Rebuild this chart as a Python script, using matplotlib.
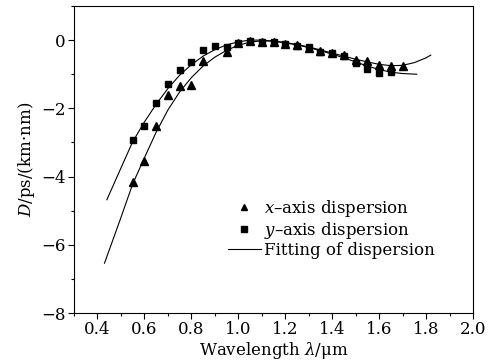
import numpy as np
import matplotlib
matplotlib.use("Agg")
import matplotlib.pyplot as plt
from matplotlib.ticker import MultipleLocator
from matplotlib.lines import Line2D

plt.rcParams['font.family'] = ['DejaVu Serif']
plt.rcParams['mathtext.fontset'] = 'dejavuserif'

# Measured dispersion, x-axis (triangles)
wl_x = [0.55, 0.60, 0.65, 0.70, 0.75, 0.80, 0.85, 0.95, 1.00, 1.05, 1.10, 1.15,
        1.20, 1.25, 1.30, 1.35, 1.40, 1.45, 1.50, 1.55, 1.60, 1.65, 1.70]
d_x = [-4.17, -3.55, -2.53, -1.61, -1.35, -1.31, -0.60, -0.34, -0.08, -0.03, -0.05, -0.06,
       -0.11, -0.15, -0.22, -0.32, -0.37, -0.44, -0.57, -0.61, -0.72, -0.76, -0.76]

# Measured dispersion, y-axis (squares)
wl_y = [0.55, 0.60, 0.65, 0.70, 0.75, 0.80, 0.85, 0.90, 0.95, 1.00, 1.05, 1.10,
        1.15, 1.20, 1.25, 1.30, 1.35, 1.40, 1.45, 1.50, 1.55, 1.60, 1.65]
d_y = [-2.92, -2.52, -1.83, -1.28, -0.87, -0.63, -0.30, -0.17, -0.20, -0.08, -0.02, -0.06,
       -0.07, -0.10, -0.17, -0.21, -0.34, -0.39, -0.47, -0.66, -0.86, -0.95, -0.93]

# Fitting curves
fit_y_wl = [0.44, 0.50, 0.55, 0.60, 0.65, 0.70, 0.75, 0.80, 0.85, 0.90, 0.95, 1.00, 1.05,
            1.10, 1.15, 1.20, 1.25, 1.30, 1.35, 1.40, 1.45, 1.50, 1.55, 1.60, 1.65, 1.70, 1.76]
fit_y_d = [-4.68, -3.75, -2.98, -2.40, -1.88, -1.42, -1.03, -0.72, -0.47, -0.28, -0.14, -0.05, 0.00,
           0.00, -0.03, -0.08, -0.14, -0.22, -0.31, -0.41, -0.52, -0.64, -0.76, -0.86, -0.94, -0.98, -1.00]

fit_x_wl = [0.43, 0.50, 0.55, 0.60, 0.65, 0.70, 0.75, 0.80, 0.85, 0.90, 0.95, 1.00, 1.05, 1.10, 1.15,
            1.20, 1.25, 1.30, 1.35, 1.40, 1.45, 1.50, 1.55, 1.60, 1.65, 1.70, 1.75, 1.80, 1.82]
fit_x_d = [-6.54, -5.20, -4.22, -3.45, -2.70, -2.05, -1.52, -1.10, -0.76, -0.50, -0.30, -0.15, -0.06, -0.02, -0.03,
           -0.07, -0.13, -0.20, -0.29, -0.38, -0.47, -0.56, -0.64, -0.71, -0.75, -0.74, -0.66, -0.52, -0.44]

xticks = [0.4, 0.6, 0.8, 1.0, 1.2, 1.4, 1.6, 1.8, 2.0]
yticks = [-8, -6, -4, -2, 0]

fig = plt.figure(figsize=(4.91, 3.64), dpi=100)
ax = fig.add_axes([74 / 491, 1 - 313 / 364, 399 / 491, 307 / 364])

ax.plot(fit_y_wl, fit_y_d, color='black', lw=0.8)
ax.plot(fit_x_wl, fit_x_d, color='black', lw=0.8)
ax.plot(wl_x, d_x, ls='none', marker='^', ms=5.5, color='black')
ax.plot(wl_y, d_y, ls='none', marker='s', ms=4.5, color='black')

ax.set_xlim(0.3, 2.0)
ax.set_ylim(-8, 1)
ax.set_xticks(xticks)
ax.set_xticklabels([f'{v:.1f}' for v in xticks])
ax.xaxis.set_minor_locator(MultipleLocator(0.1))
ax.set_yticks(yticks)
ax.set_yticklabels(['\u2212' + str(abs(v)) if v < 0 else str(v) for v in yticks])
ax.yaxis.set_minor_locator(MultipleLocator(1))
ax.tick_params(which='major', direction='out', length=4, width=0.8, labelsize=12, pad=2)
ax.tick_params(which='minor', direction='out', length=2.5, width=0.8)

ax.set_xlabel('Wavelength $\\lambda$/\u03bcm', fontsize=12, labelpad=1)
ax.set_ylabel('$D$/ps/(km\u00b7nm)', fontsize=12, labelpad=3)

handles = [
    Line2D([], [], ls='none', marker='^', ms=5, color='black'),
    Line2D([], [], ls='none', marker='s', ms=4, color='black'),
    Line2D([], [], color='black', lw=0.8),
]
labels = ['$x$\u2013axis dispersion', '$y$\u2013axis dispersion', 'Fitting of dispersion']
ax.legend(handles, labels, loc='upper left', bbox_to_anchor=(0.385, 0.375), frameon=False,
          fontsize=12, handlelength=2.0, handletextpad=0.2, labelspacing=0.05,
          borderpad=0, borderaxespad=0)

fig.savefig('out.png', dpi=100)
